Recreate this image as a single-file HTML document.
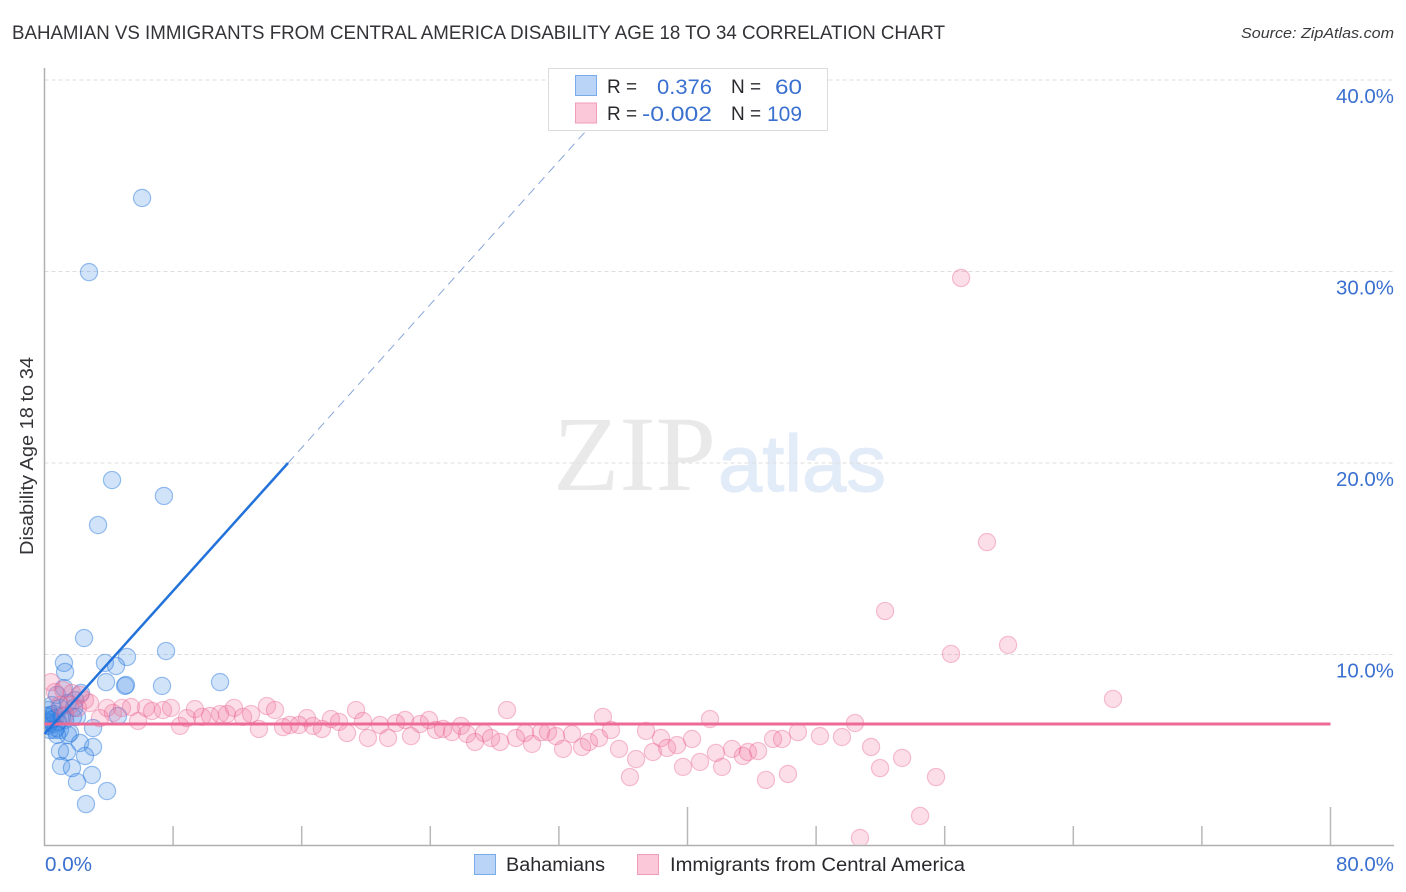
<!DOCTYPE html>
<html lang="en">
<head>
<meta charset="utf-8">
<title>Bahamian vs Immigrants from Central America Disability Age 18 to 34 Correlation Chart</title>
<style>
html,body{margin:0;padding:0;background:#fff}
svg{display:block}
text{font-family:"Liberation Sans",sans-serif}
</style>
</head>
<body>
<svg id="chart" width="1406" height="892" viewBox="0 0 1406 892" xmlns="http://www.w3.org/2000/svg">
  <defs>
    <clipPath id="plot-clip"><rect x="45" y="68" width="1349" height="776.5"/></clipPath>
  </defs>
  <text x="12" y="39" font-size="19" fill="#333338" textLength="933" lengthAdjust="spacingAndGlyphs">BAHAMIAN VS IMMIGRANTS FROM CENTRAL AMERICA DISABILITY AGE 18 TO 34 CORRELATION CHART</text>
  <text x="1394" y="38" font-size="15" font-style="italic" fill="#3a3a3e" text-anchor="end" textLength="153" lengthAdjust="spacingAndGlyphs">Source: ZipAtlas.com</text>

  <g>
    <text x="553" y="490" font-size="107" fill="#e9e9e9" style="font-family:'Liberation Serif',serif" textLength="163" lengthAdjust="spacingAndGlyphs">ZIP</text>
    <text x="718" y="491" font-size="80" fill="#e2ebf8" stroke="#e2ebf8" stroke-width="1.2" textLength="168" lengthAdjust="spacingAndGlyphs">atlas</text>
  </g>

  <g id="grid"></g>
  <g id="axes"></g>
  <g id="points-blue" clip-path="url(#plot-clip)"></g>
  <g id="points-pink" clip-path="url(#plot-clip)"></g>
  <g id="trends"></g>
  <g id="ticklabels"></g>

  <text transform="translate(33,456) rotate(-90)" font-size="18.5" fill="#333338" text-anchor="middle" textLength="198" lengthAdjust="spacingAndGlyphs">Disability Age 18 to 34</text>

  <g>
    <rect x="548.5" y="68.5" width="279" height="62" fill="#fff" fill-opacity="0.93" stroke="#dcdcdc" stroke-width="1"/>
    <rect x="575.5" y="75.5" width="21" height="20" fill="#b9d4f6" stroke="#79abe8"/>
    <rect x="575.5" y="103" width="21" height="20" fill="#fbc8da" stroke="#f09db9"/>
    <text x="607" y="93" font-size="19" fill="#2a2a2e">R =</text>
    <text x="712" y="94" font-size="21.5" fill="#3a70cf" text-anchor="end" textLength="55" lengthAdjust="spacingAndGlyphs">0.376</text>
    <text x="731" y="93" font-size="19" fill="#2a2a2e">N =</text>
    <text x="802" y="94" font-size="21.5" fill="#3a70cf" text-anchor="end" textLength="27" lengthAdjust="spacingAndGlyphs">60</text>
    <text x="607" y="120" font-size="19" fill="#2a2a2e">R =</text>
    <text x="712" y="121" font-size="21.5" fill="#3a70cf" text-anchor="end" textLength="70" lengthAdjust="spacingAndGlyphs">-0.002</text>
    <text x="731" y="120" font-size="19" fill="#2a2a2e">N =</text>
    <text x="802" y="121" font-size="21.5" fill="#3a70cf" text-anchor="end" textLength="35" lengthAdjust="spacingAndGlyphs">109</text>
  </g>

  <g>
    <g>
      <rect x="474.5" y="854.5" width="21" height="20" fill="#b9d4f6" stroke="#79abe8"/>
      <text x="506" y="871" font-size="19" fill="#2a2a2e" textLength="99" lengthAdjust="spacingAndGlyphs">Bahamians</text>
    </g>
    <g>
      <rect x="637.5" y="854.5" width="21" height="20" fill="#fbc8da" stroke="#f09db9"/>
      <text x="670" y="871" font-size="19" fill="#2a2a2e" textLength="295" lengthAdjust="spacingAndGlyphs">Immigrants from Central America</text>
    </g>
  </g>
</svg>
<script>
const blueX = [6.07,2.77,4.20,7.43,3.33,2.46,7.56,1.21,3.76,5.13,4.45,1.28,3.83,5.01,5.07,7.31,10.92,1.21,0.78,2.27,1.90,1.46,0.47,0.96,1.84,0.22,4.57,3.02,2.02,1.77,0.34,0.65,1.28,0.16,0.53,0.22,0.96,0.34,0.72,1.46,1.59,2.21,3.02,0.96,1.40,2.52,1.03,1.71,2.95,2.02,3.89,2.58,0.65,0.84,0.09,0.40,0.28,0.59,1.09,0.78];
const blueY = [33.84,29.97,19.11,18.28,16.76,10.86,10.18,9.56,9.56,9.87,9.40,9.09,8.56,8.36,8.41,8.36,8.56,8.25,7.89,7.99,7.62,7.47,7.36,7.21,7.21,7.10,6.79,6.16,6.74,6.74,6.84,6.68,6.58,6.48,6.37,6.27,6.06,6.06,6.16,5.80,5.90,5.38,5.17,4.96,4.91,4.70,4.18,4.07,3.71,3.34,2.87,2.19,6.06,6.48,6.79,6.58,6.42,6.89,6.79,5.80];
const pinkX = [0.40,0.65,1.15,1.71,2.21,2.83,0.96,1.59,2.08,2.52,1.28,3.45,3.89,4.26,4.82,5.38,5.82,6.31,6.69,7.37,7.87,8.43,8.86,9.36,9.80,10.30,10.92,11.35,11.79,12.35,12.85,13.34,13.84,14.34,14.84,15.27,15.83,16.33,16.70,17.26,17.82,18.32,18.82,19.38,19.81,20.12,20.87,21.37,21.87,22.43,22.80,23.36,23.92,24.36,24.79,25.35,25.91,26.28,26.78,27.34,27.78,28.34,28.77,29.33,29.89,30.33,30.89,31.32,31.82,32.26,32.82,33.44,33.87,34.50,34.74,35.24,35.74,36.80,36.42,37.42,38.35,37.85,38.73,39.35,39.72,40.28,41.40,40.78,41.77,42.15,42.77,43.45,43.76,44.39,45.32,45.88,46.87,44.88,46.25,48.24,49.61,50.42,51.42,51.98,53.35,55.46,54.47,50.73,57.02,58.63,52.29,56.39,59.94,66.47];
const pinkY = [8.56,8.04,8.15,7.99,7.89,7.47,7.36,7.36,7.21,7.62,6.84,6.68,7.21,6.95,7.21,7.26,6.53,7.21,7.05,7.10,7.21,6.27,6.68,7.15,6.74,6.79,6.89,6.89,7.21,6.74,6.89,6.11,7.31,7.10,6.21,6.32,6.32,6.68,6.27,6.11,6.63,6.48,5.90,7.10,6.53,5.64,6.32,5.64,6.42,6.58,5.74,6.37,6.58,6.06,6.11,5.95,6.27,5.85,5.43,5.90,5.64,5.43,7.10,5.64,5.90,5.33,5.95,5.95,5.74,5.07,5.85,5.17,5.43,5.64,6.74,6.06,5.07,4.54,3.60,6.01,5.64,4.91,5.12,5.27,4.13,5.59,6.63,4.39,4.86,4.13,5.07,4.70,4.91,4.96,5.59,5.59,5.95,3.45,3.76,5.74,5.69,6.42,5.17,4.07,4.60,3.60,1.57,0.42,29.66,15.87,12.27,10.03,10.50,7.68];
const blueTrendX = [0, 15.15, 36.1];
const blueTrendY = [5.85, 20, 39.6];
const pinkTrendX = [0, 80];
const pinkTrendY = [6.37, 6.37];
const yTicks = [10, 20, 30, 40];
const yTickLabels = ["10.0%", "20.0%", "30.0%", "40.0%"];
const xTicks = [0, 8, 16, 24, 32, 40, 48, 56, 64, 72, 80];
const xMajorTicks = [40, 80];
const xEndLabels = ["0.0%", "80.0%"];

const SVG_NS = "http://www.w3.org/2000/svg";
const sx = v => 44.5 + v * 16.075;
const sy = v => 846 - v * 19.15;

function mk(tag, parent, attrs) {
  const el = document.createElementNS(SVG_NS, tag);
  for (const k in attrs) el.setAttribute(k, attrs[k]);
  parent.appendChild(el);
  return el;
}

const gridG = document.getElementById("grid");
const axesG = document.getElementById("axes");
const blueG = document.getElementById("points-blue");
const pinkG = document.getElementById("points-pink");
const trendG = document.getElementById("trends");
const labelG = document.getElementById("ticklabels");

yTicks.forEach((t, i) => {
  const ln = mk("line", gridG, {x1: 44.5, x2: 1394, y1: sy(t), y2: sy(t), stroke: "#dedede", "stroke-width": 1, "stroke-dasharray": "4 3"});
  
  
  const lb = mk("text", labelG, {x: 1394, y: sy(t) + 23, "font-size": 20.5, fill: "#3a70cf", "text-anchor": "end", textLength: 58, lengthAdjust: "spacingAndGlyphs"});
  lb.textContent = yTickLabels[i];
  
  
});

const yAxis = mk("line", axesG, {x1: 44.5, x2: 44.5, y1: 68, y2: 846, stroke: "#b0b0b0", "stroke-width": 1.5});


const xAxis = mk("line", axesG, {x1: 44, x2: 1394, y1: 845.5, y2: 845.5, stroke: "#b0b0b0", "stroke-width": 1.5});


xTicks.forEach(t => {
  if (t === 0) return;
  const top = xMajorTicks.includes(t) ? 807 : 826;
  const tk = mk("line", axesG, {x1: sx(t), x2: sx(t), y1: top, y2: 845, stroke: "#b8b8b8", "stroke-width": 1.5});
  
  
});

const x0 = mk("text", labelG, {x: 45, y: 871, "font-size": 20.5, fill: "#3a70cf", textLength: 47, lengthAdjust: "spacingAndGlyphs"});
x0.textContent = xEndLabels[0];


const x1 = mk("text", labelG, {x: 1394, y: 871, "font-size": 20.5, fill: "#3a70cf", "text-anchor": "end", textLength: 58, lengthAdjust: "spacingAndGlyphs"});
x1.textContent = xEndLabels[1];



blueX.forEach((v, i) => {
  const c = mk("circle", blueG, {cx: sx(v), cy: sy(blueY[i]), r: 8.6, fill: "#3f8ce8", "fill-opacity": 0.24, stroke: "#2476dc", "stroke-opacity": 0.45, "stroke-width": 1.2});
  
  
});
pinkX.forEach((v, i) => {
  const c = mk("circle", pinkG, {cx: sx(v), cy: sy(pinkY[i]), r: 8.6, fill: "#f0709b", "fill-opacity": 0.23, stroke: "#e8628f", "stroke-opacity": 0.38, "stroke-width": 1.2});
  
  
});

const pinkLine = mk("line", trendG, {x1: sx(pinkTrendX[0]), y1: sy(pinkTrendY[0]), x2: sx(pinkTrendX[1]), y2: sy(pinkTrendY[1]), stroke: "#ec6a95", "stroke-width": 3});


const blueLine = mk("line", trendG, {x1: sx(blueTrendX[0]), y1: sy(blueTrendY[0]), x2: sx(blueTrendX[1]), y2: sy(blueTrendY[1]), stroke: "#2272da", "stroke-width": 2.5});


const blueDash = mk("line", gridG, {x1: sx(blueTrendX[1]), y1: sy(blueTrendY[1]), x2: sx(blueTrendX[2]), y2: sy(blueTrendY[2]), stroke: "#88a6da", "stroke-width": 1, "stroke-dasharray": "9 6"});


</script>
</body>
</html>
